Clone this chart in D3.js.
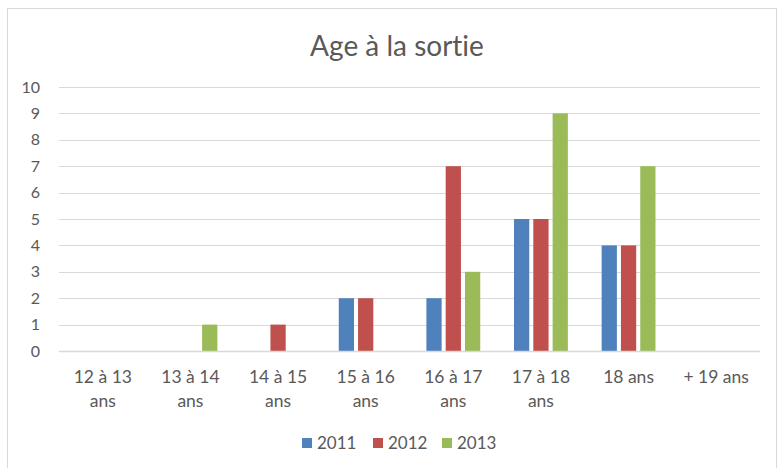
<!DOCTYPE html>
<html>
<head>
<meta charset="utf-8">
<script src="https://cdn.jsdelivr.net/npm/d3@7"></script>
<style>
  body { margin: 0; background: #fff; }
  text { font-family: Lato, "Open Sans", sans-serif; fill: #595959; font-variant-ligatures: none; }
</style>
</head>
<body>
<svg id="chart" width="779" height="468"></svg>
<script>
// categories (each label split over lines)
var categories = ["12 à 13 ans", "13 à 14 ans", "14 à 15 ans", "15 à 16 ans",
                  "16 à 17 ans", "17 à 18 ans", "18 ans", "+ 19 ans"];
var catLines = [["12 à 13", "ans"], ["13 à 14", "ans"], ["14 à 15", "ans"], ["15 à 16", "ans"],
                ["16 à 17", "ans"], ["17 à 18", "ans"], ["18 ans"], ["+ 19 ans"]];
var series = ["2011", "2012", "2013"];
var v2011 = [0, 0, 0, 2, 2, 5, 4, 0];
var v2012 = [0, 0, 1, 2, 7, 5, 4, 0];
var v2013 = [0, 1, 0, 0, 3, 9, 7, 0];
var yTicks = [0, 1, 2, 3, 4, 5, 6, 7, 8, 9, 10];
var colors = ["#4f81bd", "#c0504d", "#9bbb59"];

var values = [v2011, v2012, v2013];
var svg = d3.select("#chart");

// chart frame
svg.append("rect")
  .attr("x", 7.5).attr("y", 8.5)
  .attr("width", 769).attr("height", 480)
  .attr("fill", "#fff")
  .attr("stroke", "#d9d9d9");

var margin = {left: 59, right: 19, top: 87, bottom: 117};
var width = 779 - margin.left - margin.right;
var height = 468 - margin.top - margin.bottom;

var x = d3.scaleBand().domain(categories).range([margin.left, margin.left + width]);
var y = d3.scaleLinear().domain([0, 10]).range([margin.top + height, margin.top]);
var x1 = d3.scaleBand().domain(series).range([0, x.bandwidth()]).paddingInner(0.21).paddingOuter(0.875);

// title
svg.append("text")
  .attr("x", 397).attr("y", 56)
  .attr("text-anchor", "middle")
  .style("font-size", "28px")
  .text("Age à la sortie");

// gridlines
svg.append("g")
  .selectAll("line")
  .data(yTicks)
  .join("line")
  .attr("x1", margin.left).attr("x2", margin.left + width)
  .attr("y1", function(d) { return Math.round(y(d)) + 0.5; })
  .attr("y2", function(d) { return Math.round(y(d)) + 0.5; })
  .attr("stroke", "#d9d9d9")
  .attr("stroke-width", 1);

// y axis labels
var yAxis = d3.axisLeft(y).tickValues(yTicks).tickSize(0).tickPadding(0);
var gy = svg.append("g")
  .attr("transform", "translate(" + (margin.left - 19) + ",0)")
  .call(yAxis);
gy.select(".domain").remove();
gy.selectAll("text")
  .style("font-size", "16px")
  .attr("fill", "#595959")
  .style("font-family", "Lato, 'Open Sans', sans-serif");

// bars
var groups = svg.append("g")
  .selectAll("g")
  .data(categories)
  .join("g")
  .attr("transform", function(d) { return "translate(" + x(d) + ",0)"; });

groups.selectAll("rect")
  .data(function(d, i) {
    return series.map(function(s, j) { return {s: s, v: values[j][i], c: colors[j]}; });
  })
  .join("rect")
  .attr("x", function(d) { return x1(d.s); })
  .attr("width", x1.bandwidth())
  .attr("y", function(d) { return y(d.v); })
  .attr("height", function(d) { return y(0) - y(d.v); })
  .attr("fill", function(d) { return d.c; });

// zero axis line on top
svg.append("line")
  .attr("x1", margin.left).attr("x2", margin.left + width)
  .attr("y1", Math.round(y(0)) + 0.5).attr("y2", Math.round(y(0)) + 0.5)
  .attr("stroke", "#d9d9d9")
  .attr("stroke-width", 1.5);

// category labels
var xl = svg.append("g");
categories.forEach(function(c, i) {
  var t = xl.append("text")
    .attr("x", x(c) + x.bandwidth() / 2)
    .attr("y", y(0) + 32)
    .attr("text-anchor", "middle")
    .style("font-size", "17.5px");
  catLines[i].forEach(function(line, k) {
    t.append("tspan")
      .attr("x", x(c) + x.bandwidth() / 2)
      .attr("dy", k === 0 ? 0 : 24)
      .text(line);
  });
});

// legend
var legendX = [302, 373, 442];
var legend = svg.append("g");
series.forEach(function(s, j) {
  legend.append("rect")
    .attr("x", legendX[j]).attr("y", 438)
    .attr("width", 10).attr("height", 10)
    .attr("fill", colors[j]);
  legend.append("text")
    .attr("x", legendX[j] + 15).attr("y", 449)
    .style("font-size", "17px")
    .text(s);
});
</script>
</body>
</html>
